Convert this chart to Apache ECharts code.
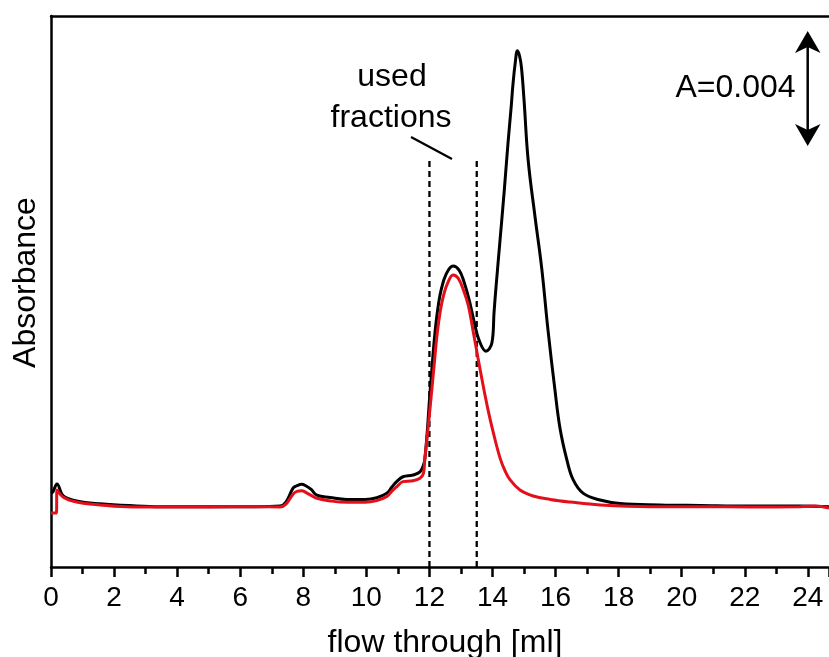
<!DOCTYPE html>
<html>
<head>
<meta charset="utf-8">
<script src="https://cdn.jsdelivr.net/npm/echarts@6/dist/echarts.min.js"></script>
<style>html,body{margin:0;padding:0;background:#fff}#c{width:829px;height:657px}</style>
</head>
<body>
<div id="c"></div>
<script>
// flow through [ml], black trace
const blackX = [0, 0.06, 0.19, 0.39, 0.81, 1.55, 2.6, 3.5, 5.0, 6.5, 7.26, 7.45, 7.68, 7.80, 7.95, 8.09, 8.25, 8.43, 8.85, 9.38, 9.96, 10.33, 10.65, 10.81, 10.96, 11.16, 11.48, 11.70, 11.81, 11.85, 11.93, 12.00, 12.08, 12.16, 12.26, 12.37, 12.53, 12.75, 12.94, 13.10, 13.26, 13.42, 13.57, 13.79, 13.98, 14.05, 14.11, 14.24, 14.37, 14.49, 14.59, 14.65, 14.72, 14.79, 14.86, 14.92, 15.00, 15.13, 15.35, 15.56, 15.76, 15.98, 16.14, 16.36, 16.56, 16.87, 17.41, 18.04, 19.31, 20.58, 22.17, 23.75, 24.67];
// absorbance [mAU], black trace
const blackY = [2.57, 2.61, 2.89, 2.47, 2.30, 2.20, 2.13, 2.10, 2.10, 2.10, 2.12, 2.26, 2.75, 2.83, 2.88, 2.82, 2.70, 2.50, 2.42, 2.35, 2.35, 2.41, 2.57, 2.78, 2.97, 3.14, 3.20, 3.31, 3.55, 3.72, 4.70, 5.81, 6.92, 7.97, 8.94, 9.63, 10.19, 10.47, 10.33, 9.91, 9.29, 8.52, 7.90, 7.51, 7.79, 8.88, 9.72, 11.39, 13.06, 14.73, 15.98, 16.81, 17.53, 17.96, 17.77, 17.36, 16.24, 14.16, 12.17, 10.40, 8.24, 6.16, 4.83, 3.72, 3.03, 2.57, 2.33, 2.21, 2.16, 2.14, 2.12, 2.12, 2.10];
// flow through [ml], red trace
const redX = [0, 0.17, 0.19, 0.39, 0.81, 1.55, 2.6, 3.5, 5.0, 6.5, 7.26, 7.45, 7.68, 7.80, 7.95, 8.09, 8.25, 8.43, 8.85, 9.38, 9.96, 10.33, 10.65, 10.81, 10.96, 11.16, 11.48, 11.70, 11.81, 11.85, 11.96, 12.05, 12.15, 12.24, 12.35, 12.46, 12.59, 12.75, 12.91, 13.08, 13.23, 13.38, 13.54, 13.70, 13.86, 14.02, 14.24, 14.40, 14.56, 14.87, 15.29, 15.83, 16.46, 17.41, 18.99, 20.58, 22.17, 23.75, 24.23, 24.67];
// absorbance [mAU], red trace
const redY = [1.88, 1.88, 2.68, 2.43, 2.26, 2.16, 2.09, 2.09, 2.09, 2.10, 2.09, 2.19, 2.54, 2.63, 2.65, 2.59, 2.49, 2.39, 2.30, 2.25, 2.25, 2.31, 2.45, 2.64, 2.79, 2.97, 3.00, 3.09, 3.26, 3.72, 4.87, 5.88, 7.03, 8.07, 8.94, 9.50, 9.91, 10.16, 10.05, 9.63, 9.11, 8.24, 7.27, 6.33, 5.46, 4.70, 3.79, 3.34, 3.03, 2.68, 2.47, 2.35, 2.26, 2.16, 2.10, 2.10, 2.09, 2.10, 2.12, 2.05];
// used fractions boundaries [ml] and top of the dashed markers [mAU]
const fractionBounds = [12, 13.5];
const fractionTop = 14.16;
const xTickLabels = ['0','2','4','6','8','10','12','14','16','18','20','22','24'];

const FONT = 'Liberation Sans, Arial, Helvetica, sans-serif';
const xMin = 0, xMax = 24.67, yMin = 0, yMax = 19.17;

const zip = (a, b) => a.map((v, i) => [v, b[i]]);
const dashedSeries = fractionBounds.map(x => ({
  type: 'line', data: [[x, yMin], [x, fractionTop]], symbol: 'none', silent: true,
  lineStyle: { color: '#000', width: 2.3, type: [6, 4] }, z: 1
}));

const chart = echarts.init(document.getElementById('c'), null, { renderer: 'canvas' });
chart.setOption({
  animation: false,
  backgroundColor: '#fff',
  grid: { left: 51, top: 16, right: 0, bottom: 90, containLabel: false, outerBoundsMode: 'none' },
  xAxis: [{
    type: 'value', min: xMin, max: xMax, interval: 2,
    axisLine: { show: true, lineStyle: { color: '#000', width: 2.5 } },
    axisTick: { show: true, length: 10, lineStyle: { color: '#000', width: 2.5 } },
    minorTick: { show: true, splitNumber: 2, length: 7, lineStyle: { color: '#000', width: 2.5 } },
    splitLine: { show: false },
    axisLabel: { show: true, showMaxLabel: false, margin: 17, color: '#000', fontSize: 28, fontFamily: FONT,
      formatter: v => { const s = String(v); return xTickLabels.indexOf(s) >= 0 ? s : ''; } },
    name: 'flow through [ml]', nameLocation: 'middle', nameGap: 60,
    nameTextStyle: { color: '#000', fontSize: 32, fontFamily: FONT, padding: [0, 0, 0, 10] }
  }, {
    type: 'value', min: xMin, max: xMax, position: 'top',
    axisLine: { show: true, onZero: false, lineStyle: { color: '#000', width: 2.5 } },
    axisTick: { show: false }, axisLabel: { show: false }, splitLine: { show: false }
  }],
  yAxis: {
    type: 'value', min: yMin, max: yMax,
    axisLine: { show: true, lineStyle: { color: '#000', width: 2.5 } },
    axisTick: { show: false }, axisLabel: { show: false }, splitLine: { show: false },
    name: 'Absorbance', nameLocation: 'middle', nameGap: 9, nameRotate: 90,
    nameTextStyle: { color: '#000', fontSize: 32, fontFamily: FONT, padding: [0, 0, 0, 18] }
  },
  series: [
    ...dashedSeries,
    { type: 'line', name: 'black', data: zip(blackX, blackY), symbol: 'none', smooth: 0.4,
      lineStyle: { color: '#000', width: 3 }, z: 2 },
    { type: 'line', name: 'red', data: zip(redX, redY), symbol: 'none', smooth: 0.4,
      lineStyle: { color: '#e3101b', width: 3 }, z: 3 }
  ],
  graphic: [
    { type: 'text', style: { text: 'used', x: 392, y: 61, align: 'center', verticalAlign: 'top', fill: '#000', font: '32px ' + FONT }, z: 10 },
    { type: 'text', style: { text: 'fractions', x: 391, y: 102, align: 'center', verticalAlign: 'top', fill: '#000', font: '32px ' + FONT }, z: 10 },
    { type: 'line', shape: { x1: 411, y1: 137, x2: 452, y2: 159 }, style: { stroke: '#000', lineWidth: 2.2 }, z: 10 },
    { type: 'text', style: { text: 'A=0.004', x: 735.5, y: 72, align: 'center', verticalAlign: 'top', fill: '#000', font: '32px ' + FONT }, z: 10 },
    { type: 'line', shape: { x1: 807.7, y1: 40, x2: 807.7, y2: 137 }, style: { stroke: '#000', lineWidth: 2.5 }, z: 10 },
    { type: 'polygon', shape: { points: [[807.7, 31], [820.5, 53], [807.7, 47], [795, 53]] }, style: { fill: '#000' }, z: 10 },
    { type: 'polygon', shape: { points: [[807.7, 146], [820.5, 124], [807.7, 130], [795, 124]] }, style: { fill: '#000' }, z: 10 }
  ]
});
</script>
</body>
</html>
